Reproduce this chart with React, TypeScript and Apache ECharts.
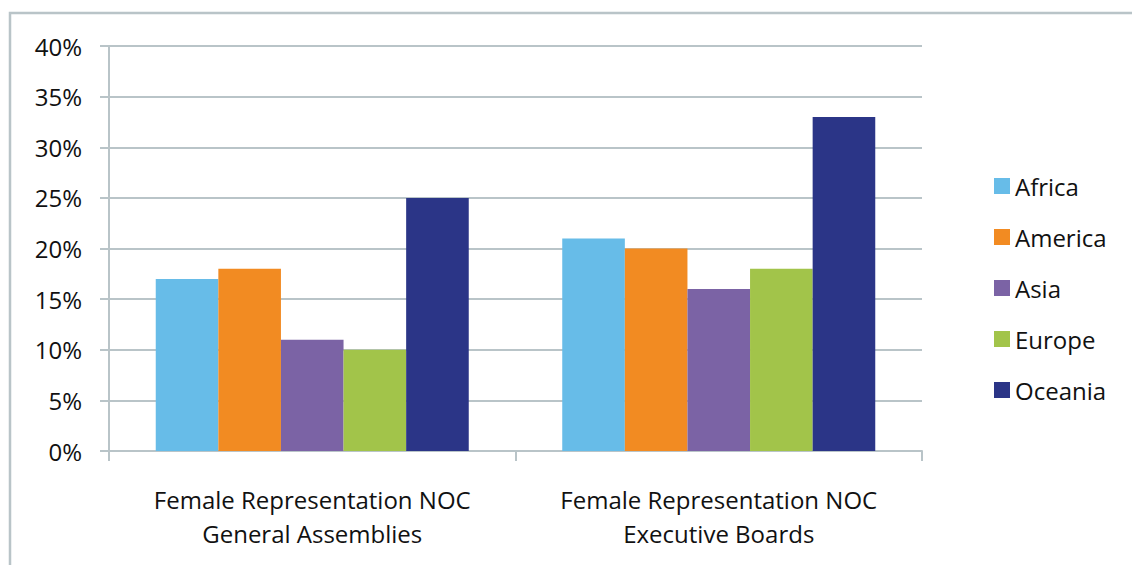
import React, { useEffect, useRef } from "react";
import * as echarts from "echarts";

const categories = [
  "Female Representation NOC\nGeneral Assemblies",
  "Female Representation NOC\nExecutive Boards",
];
const seriesNames = ["Africa", "America", "Asia", "Europe", "Oceania"];
const africa = [17, 21];
const america = [18, 20];
const asia = [11, 16];
const europe = [10, 18];
const oceania = [25, 33];
const yTicks = [0, 5, 10, 15, 20, 25, 30, 35, 40];
const colors = ["#67BCE8", "#F28B22", "#7B63A5", "#A2C44A", "#2B3587"];

export default function App() {
  const ref = useRef<HTMLDivElement>(null);
  useEffect(() => {
    const chart = echarts.init(ref.current!, undefined, { renderer: "svg" });
    const values = [africa, america, asia, europe, oceania];
    const gridColor = "#B9C4C8";
    const font = "Open Sans";
    const fs = 24;
    chart.setOption({
      animation: false,
      textStyle: { fontFamily: font },
      color: colors,
      graphic: [
        {
          type: "rect",
          shape: { x: 10, y: 13, width: 1140, height: 600 },
          style: { fill: "none", stroke: "#B9C4C8", lineWidth: 2.5 },
          silent: true,
        },
      ],
      grid: { left: 109, right: 210, top: 46, bottom: 114, containLabel: false },
      legend: {
        orient: "vertical",
        left: 989,
        top: 169,
        itemWidth: 16,
        itemHeight: 16,
        itemGap: 27,
        icon: "rect",
        textStyle: { fontSize: fs, color: "#111", fontFamily: font },
        data: seriesNames,
      },
      xAxis: {
        type: "category",
        data: categories,
        axisLine: { lineStyle: { color: gridColor, width: 2 } },
        axisTick: { show: true, length: 10, lineStyle: { color: gridColor, width: 2 } },
        axisLabel: {
          interval: 0,
          fontSize: fs,
          color: "#111",
          margin: 31,
          lineHeight: 34,
          fontFamily: font,
        },
      },
      yAxis: {
        type: "value",
        min: 0,
        max: 40,
        interval: 5,
        axisLine: { show: true, lineStyle: { color: gridColor, width: 2 } },
        axisTick: { show: true, length: 9, lineStyle: { color: gridColor, width: 2 } },
        splitLine: { lineStyle: { color: gridColor, width: 2 } },
        axisLabel: {
          fontSize: fs,
          color: "#111",
          margin: 27,
          fontFamily: font,
          formatter: (v: number) => (yTicks.includes(v) ? v + "%" : ""),
        },
      },
      series: seriesNames.map((name, i) => ({
        name,
        type: "bar",
        data: values[i],
        barGap: "0%",
        barCategoryGap: "23%",
        itemStyle: { color: colors[i] },
      })),
    });
    return () => chart.dispose();
  }, []);
  return (
    <div
      ref={ref}
      style={{ position: "fixed", left: 0, top: 0, width: 1132, height: 565, background: "#fff" }}
    />
  );
}
